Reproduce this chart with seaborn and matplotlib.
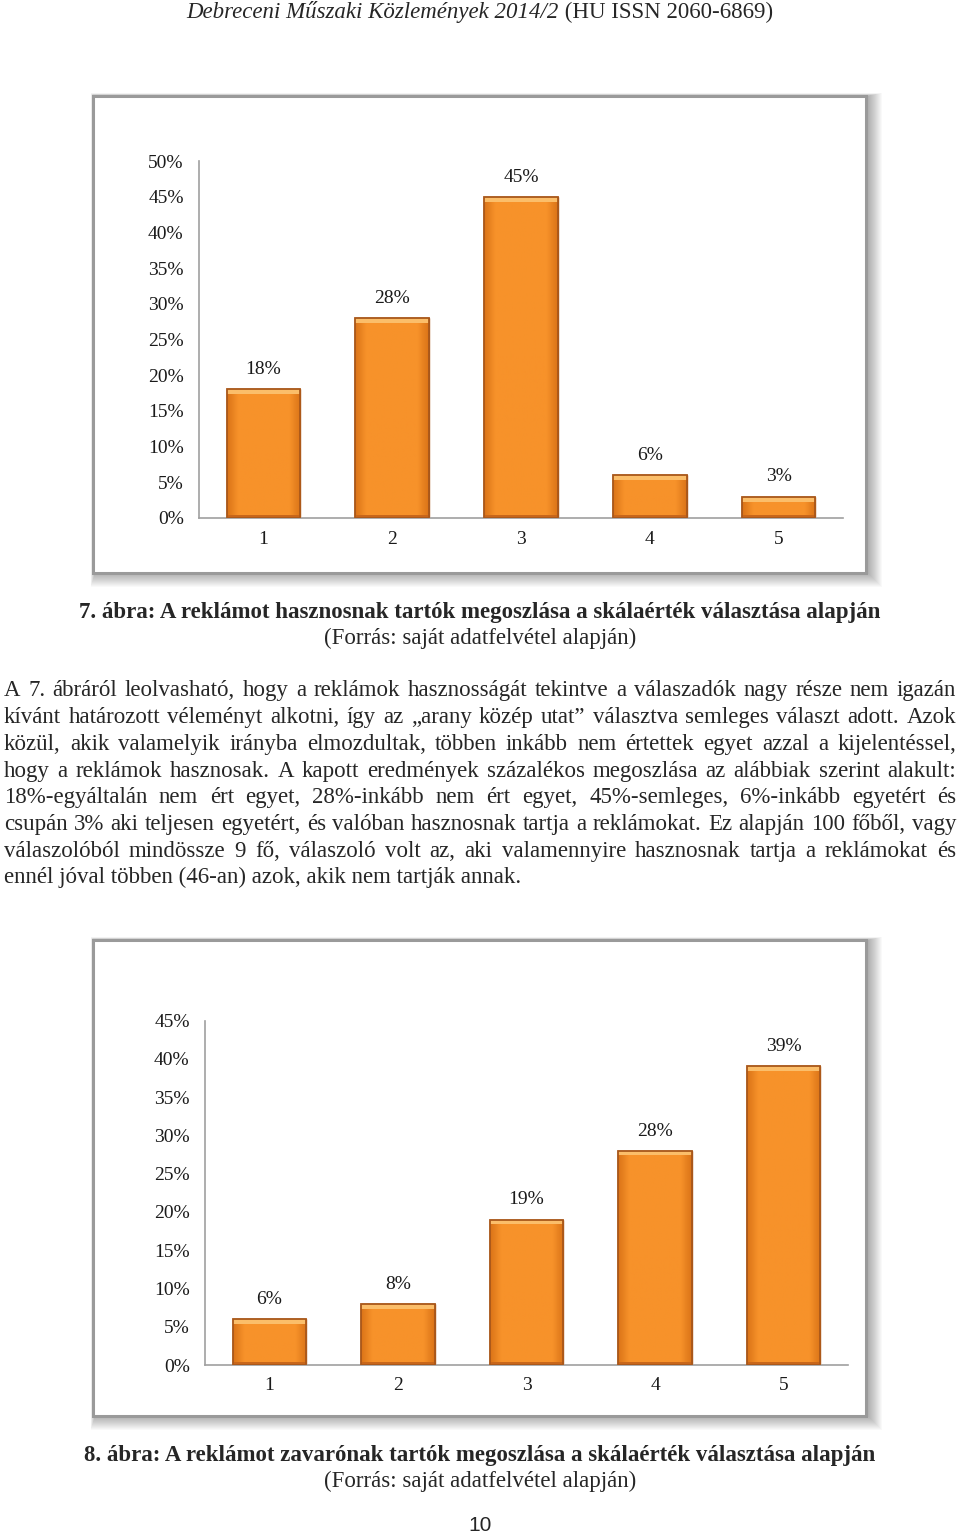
import numpy as np
import matplotlib
matplotlib.use("Agg")
import matplotlib.pyplot as plt
import seaborn as sns
from matplotlib.patches import Rectangle
from matplotlib.colors import LinearSegmentedColormap

# ---------------- data ----------------
scale_labels = ["1", "2", "3", "4", "5"]
useful_values = [18, 28, 45, 6, 3]
disturbing_values = [6, 8, 19, 28, 39]
ticks_chart1 = [0, 5, 10, 15, 20, 25, 30, 35, 40, 45, 50]
ticks_chart2 = [0, 5, 10, 15, 20, 25, 30, 35, 40, 45]

header_italic = "Debreceni Műszaki Közlemények 2014/2"
header_regular = " (HU ISSN 2060-6869)"
caption1_title = "7. ábra: A reklámot hasznosnak tartók megoszlása a skálaérték választása alapján"
caption2_title = "8. ábra: A reklámot zavarónak tartók megoszlása a skálaérték választása alapján"
caption_source = "(Forrás: saját adatfelvétel alapján)"
paragraph_lines = [
    "A 7. ábráról leolvasható, hogy a reklámok hasznosságát tekintve a válaszadók nagy része nem igazán",
    "kívánt határozott véleményt alkotni, így az „arany közép utat” választva semleges választ adott. Azok",
    "közül, akik valamelyik irányba elmozdultak, többen inkább nem értettek egyet azzal a kijelentéssel,",
    "hogy a reklámok hasznosak. A kapott eredmények százalékos megoszlása az alábbiak szerint alakult:",
    "18%-egyáltalán nem ért egyet, 28%-inkább nem ért egyet, 45%-semleges, 6%-inkább egyetért és",
    "csupán 3% aki teljesen egyetért, és valóban hasznosnak tartja a reklámokat. Ez alapján 100 főből, vagy",
    "válaszolóból  mindössze 9 fő, válaszoló volt az, aki valamennyire hasznosnak tartja a reklámokat és",
    "ennél jóval többen (46-an) azok, akik nem tartják annak.",
]
page_number = "10"

# ---------------- setup ----------------
sns.set_theme(style="white")
plt.rcParams["font.family"] = ["Liberation Serif", "DejaVu Serif"]

W, H = 960, 1537
fig = plt.figure(figsize=(W / 100, H / 100), dpi=100)
fig.patch.set_facecolor("white")


def fx(x):
    return x / W


def fy(y):
    return 1 - y / H


def frame(x0, y0, x1, y1):
    # soft shadow to the right / bottom
    n = 14
    for i in range(n):
        d = n - i
        fig.add_artist(Rectangle((fx(x0 + 2 - d * 0.3), fy(y1 + d)), fx(x1 - x0 + d * 1.3), (y1 - y0 + d * 1.2) / H,
                                 transform=fig.transFigure, facecolor="black", alpha=0.022,
                                 edgecolor="none", zorder=-3))
    fig.add_artist(Rectangle((fx(x0), fy(y1)), fx(x1 - x0), (y1 - y0) / H,
                             transform=fig.transFigure, facecolor="white",
                             edgecolor="#9A9A9A", linewidth=2.2, zorder=-2))


frame(93, 96, 866, 573)
frame(93, 940, 866, 1416)

bar_face = "#F7922A"
bar_edge = "#A9571A"


def style_bars(ax):
    grad = np.linspace(0, 1, 64)
    shade = 1 - np.clip(np.abs(grad - 0.5) * 2 - 0.7, 0, 1) / 0.3
    cmap = LinearSegmentedColormap.from_list("og", ["#DB7418", "#F7922A"])
    for p in list(ax.patches):
        x0, y0 = p.get_x(), p.get_y()
        w, h = p.get_width(), p.get_height()
        img = ax.imshow(shade[np.newaxis, :], extent=(x0, x0 + w, y0, y0 + h),
                        aspect="auto", cmap=cmap, vmin=0.0, vmax=1.0, zorder=2.5)
        img.set_clip_path(p)
        top = min(h * 0.3, ax.get_ylim()[1] * 0.014)
        ax.add_patch(Rectangle((x0, y0 + h - top), w, top, facecolor="#FBBE6A",
                               edgecolor="none", zorder=2.6))
        bot = min(h * 0.2, ax.get_ylim()[1] * 0.008)
        ax.add_patch(Rectangle((x0, y0), w, bot, facecolor="#C8661A",
                               edgecolor="none", zorder=2.6))
        ax.add_patch(Rectangle((x0, y0), w, h, facecolor="none", edgecolor=bar_edge,
                               linewidth=1.3, zorder=2.7))


def make_chart(rect, values, ticks, ymax):
    ax = fig.add_axes(rect)
    ax.set_facecolor("none")
    sns.barplot(x=scale_labels, y=values, color=bar_face, width=0.57,
                saturation=1, edgecolor=bar_edge, linewidth=1.0, ax=ax, zorder=2)
    ax.set_xlim(-0.5, 4.5)
    ax.set_ylim(0, ymax)
    ax.set_yticks(ticks)
    ax.set_yticklabels([f"{t}%" for t in ticks])
    ax.tick_params(axis="y", length=0, pad=11, labelsize=14, colors="#1A1A1A")
    ax.tick_params(axis="x", length=0, pad=9, labelsize=14, colors="#1A1A1A")
    for s in ["top", "right"]:
        ax.spines[s].set_visible(False)
    for s in ["left", "bottom"]:
        ax.spines[s].set_color("#A0A0A0")
        ax.spines[s].set_linewidth(1.2)
    ax.set_xlabel("")
    ax.set_ylabel("")
    ax.bar_label(ax.containers[0], labels=[f"{v}%" for v in values],
                 padding=8, fontsize=14, color="#1A1A1A")
    style_bars(ax)
    return ax


make_chart([fx(199), fy(518), fx(843 - 199), (518 - 161) / H], useful_values, ticks_chart1, 50)
make_chart([fx(205), fy(1365), fx(848 - 205), (1365 - 1020.5) / H], disturbing_values, ticks_chart2, 45)

# ---------------- page text ----------------
fig.canvas.draw()
renderer = fig.canvas.get_renderer()
FS = 16.5
BASE = 6  # px from visual centre to baseline

# header
t1 = fig.text(0, fy(12 + BASE), header_italic, fontsize=FS, style="italic", va="baseline")
t2 = fig.text(0, fy(12 + BASE), header_regular, fontsize=FS, va="baseline")
w1 = t1.get_window_extent(renderer).width
w2 = t2.get_window_extent(renderer).width
start = 480 - (w1 + w2) / 2
t1.set_x(fx(start))
t2.set_x(fx(start + w1))

# captions
for yy, title in [(612, caption1_title), (1455, caption2_title)]:
    fig.text(0.5, fy(yy + BASE), title, ha="center", va="baseline", fontsize=FS, fontweight="bold")
for yy in [638, 1481]:
    fig.text(0.5, fy(yy + BASE), caption_source, ha="center", va="baseline", fontsize=FS)

# justified paragraph
left, right = 4, 956
ys = [690, 717, 744, 771, 797, 824, 851, 877]
for i, (line, yy) in enumerate(zip(paragraph_lines, ys)):
    words = line.split()
    if i == len(paragraph_lines) - 1:
        fig.text(fx(left), fy(yy + BASE), line, fontsize=FS, va="baseline")
        continue
    texts = [fig.text(0, fy(yy + BASE), w, fontsize=FS, va="baseline") for w in words]
    widths = [t.get_window_extent(renderer).width for t in texts]
    gap = (right - left - sum(widths)) / (len(words) - 1)
    gap = max(gap, 2)
    x = left
    for t, w in zip(texts, widths):
        t.set_x(fx(x))
        x += w + gap

# page number
fig.text(0.5, fy(1525 + BASE), page_number, ha="center", va="baseline", fontsize=15,
         family=["Liberation Sans", "DejaVu Sans"])

fig.savefig("out.png", dpi=100, facecolor="white")
